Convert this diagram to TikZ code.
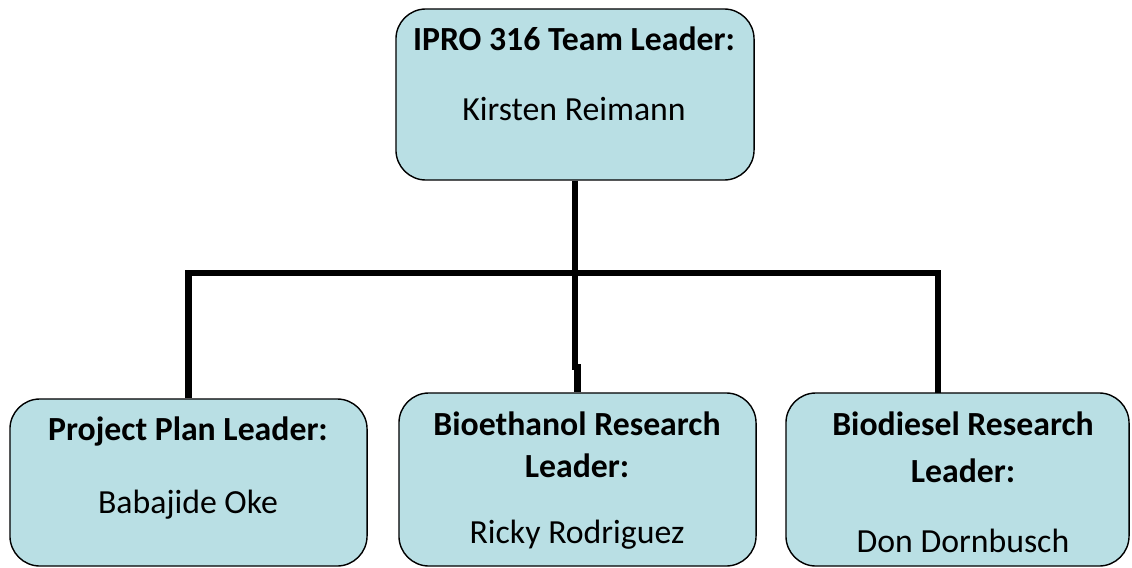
\documentclass[tikz,border=0pt]{standalone}
\usepackage{fontspec}
\setmainfont{Carlito}
\definecolor{boxblue}{RGB}{185,223,228}
\tikzset{
  orgbox/.style={draw=black,line width=1pt,fill=boxblue,rounded corners=0.75cm,
    inner sep=0pt},
  orgline/.style={draw=black,line width=4.3pt},
}
\begin{document}
\begin{tikzpicture}[x=0.025cm,y=-0.025cm]
  \useasboundingbox (0,0) rectangle (1132,567);

  \begin{scope}[every node/.style={orgbox}]
    \node[minimum width=8.95cm,minimum height=4.275cm]  (lead)    at (575,94.5)  {};
    \node[minimum width=8.925cm,minimum height=4.175cm] (plan)    at (188.5,482.5) {};
    \node[minimum width=8.925cm,minimum height=4.325cm] (ethanol) at (577.5,479.5) {};
    \node[minimum width=8.575cm,minimum height=4.325cm] (diesel)  at (957.5,479.5) {};
  \end{scope}

  \coordinate (hub)   at (575,273);
  \coordinate (rdrop) at (938,393);

  \path[orgline] (lead.south) -- (hub);
  \path[orgline] (plan.north) |- (hub) -| (rdrop);
  \path[orgline] (hub) -- ++(0,94) -| (ethanol.north);

  \begin{scope}[every node/.style={anchor=base,inner sep=0pt,font=\fontsize{24}{28}\selectfont}]
    \node[font=\fontsize{24}{28}\selectfont\bfseries] (leadrole) at (574,50)  {IPRO 316 Team Leader:};
    \node (leadname) at (574,120) {Kirsten Reimann};

    \node[font=\fontsize{24}{28}\selectfont\bfseries] (planrole) at (188,440) {Project Plan Leader:};
    \node (planname) at (188,513) {Babajide Oke};

    \node[font=\fontsize{24}{28}\selectfont\bfseries] (ethanolrole) at (577,435) {Bioethanol Research};
    \node[font=\fontsize{24}{28}\selectfont\bfseries] (ethanolrole2) at (577,477) {Leader:};
    \node (ethanolname) at (577,543) {Ricky Rodriguez};

    \node[font=\fontsize{24}{28}\selectfont\bfseries] (dieselrole) at (963,435) {Biodiesel Research};
    \node[font=\fontsize{24}{28}\selectfont\bfseries] (dieselrole2) at (963,482) {Leader:};
    \node (dieselname) at (963,552) {Don Dornbusch};
  \end{scope}

\end{tikzpicture}
\end{document}
